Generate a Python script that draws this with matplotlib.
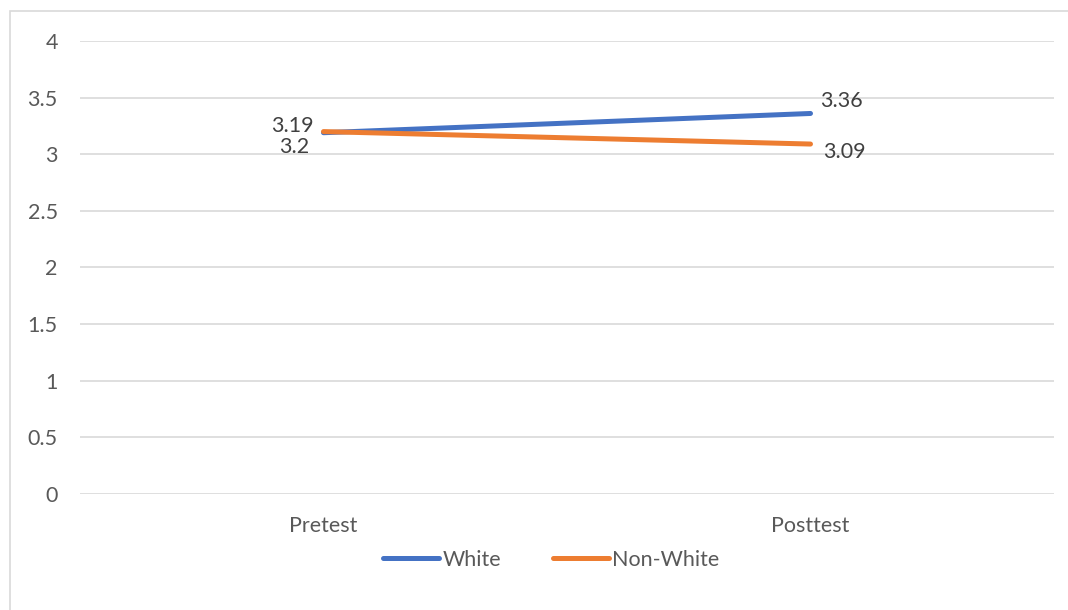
import matplotlib.pyplot as plt
from matplotlib.patches import Rectangle

plt.rcParams['font.family'] = ['Lato', 'DejaVu Sans']

categories = ["Pretest", "Posttest"]
white = [3.19, 3.36]
non_white = [3.2, 3.09]
y_ticks = [0, 0.5, 1, 1.5, 2, 2.5, 3, 3.5, 4]

TXT = "#595959"
GRID = "#D9D9D9"

fig = plt.figure(figsize=(10.68, 6.10), dpi=100)
ax = fig.add_axes([0.0749, 0.1902, 0.9120, 0.7426])

# outer chart border (light grey, runs off right/bottom like the screenshot)
fig.patches.append(Rectangle((10 / 1068, -0.05), 1.2, 1 - 11 / 610 + 0.05,
                             transform=fig.transFigure, fill=False,
                             edgecolor=GRID, linewidth=1.2))

x = list(range(len(categories)))
ax.plot(x, white, color="#4472C4", lw=3.6, solid_capstyle="round", label="White")
ax.plot(x, non_white, color="#ED7D31", lw=3.6, solid_capstyle="round", label="Non-White")

# data labels
fs = 15.5
ax.annotate("3.19", (x[0], white[0]), xytext=(-7, 5), textcoords="offset points",
            ha="right", va="center", fontsize=fs, color="#404040")
ax.annotate("3.2", (x[0], non_white[0]), xytext=(-10, -11), textcoords="offset points",
            ha="right", va="center", fontsize=fs, color="#404040")
ax.annotate("3.36", (x[1], white[1]), xytext=(7, 9), textcoords="offset points",
            ha="left", va="center", fontsize=fs, color="#404040")
ax.annotate("3.09", (x[1], non_white[1]), xytext=(9, -6), textcoords="offset points",
            ha="left", va="center", fontsize=fs, color="#404040")

ax.set_xlim(-0.5, 1.5)
ax.set_ylim(0, 4)
ax.set_yticks(y_ticks)
ax.set_yticklabels([f"{v:g}" for v in y_ticks])
ax.set_xticks(x)
ax.set_xticklabels(categories)
ax.tick_params(axis="both", length=0, labelsize=fs, labelcolor=TXT)
ax.tick_params(axis="y", pad=16)
ax.tick_params(axis="x", pad=16)
ax.grid(axis="y", color=GRID, lw=1.2)
ax.set_axisbelow(True)
for s in ax.spines.values():
    s.set_visible(False)

fig.legend(loc="center", bbox_to_anchor=(0.516, 0.082), ncol=2, frameon=False,
           fontsize=fs, labelcolor=TXT, handlelength=2.6, handletextpad=0.15,
           columnspacing=2.4)

fig.savefig("out.png", dpi=100)
